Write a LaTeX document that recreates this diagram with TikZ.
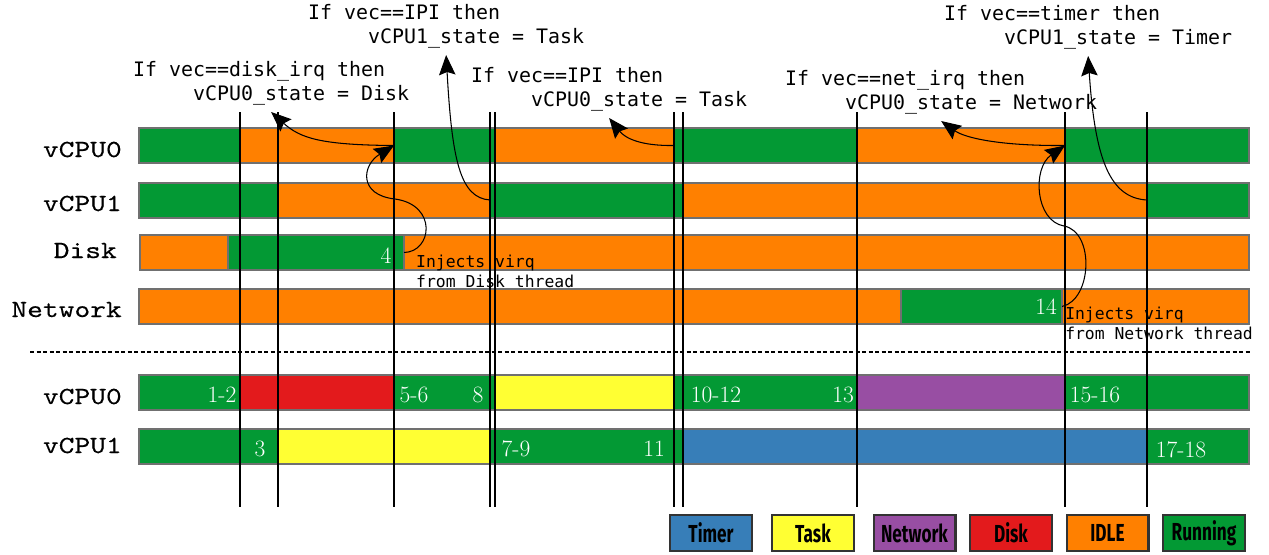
\documentclass[tikz,border=0pt]{standalone}
\usepackage{fontspec}
\usepackage{tikz}
\usetikzlibrary{positioning,arrows.meta}

\newfontfamily\lanefont{lmmono10-regular.otf}[FakeStretch=1.22,FakeBold=0.25]
\newfontfamily\codefont{DejaVu Sans Mono}
\newfontfamily\legendfont{Fira Sans}[FakeStretch=0.7]

\definecolor{run}{RGB}{3,153,52}
\definecolor{idle}{RGB}{255,128,0}
\definecolor{diskc}{RGB}{227,26,28}
\definecolor{task}{RGB}{255,255,51}
\definecolor{netc}{RGB}{152,78,163}
\definecolor{timerc}{RGB}{55,126,184}
\definecolor{bargray}{RGB}{112,112,112}

\begin{document}
\begin{tikzpicture}[x=0.03cm,y=-0.03cm,>={Stealth[length=17pt,width=14pt,inset=2.5pt]},
  seg/.style={draw=bargray,line width=1.7pt,minimum height=1.05cm,inner sep=0pt,outer sep=0pt},
  segw/.style={minimum width=#1*0.03cm},
  lane/.style={font=\lanefont\fontsize{21}{24}\selectfont,anchor=base east,inner sep=0pt},
  code/.style={font=\codefont\fontsize{17}{20.5}\selectfont,align=left,anchor=south west,inner xsep=0pt,inner ysep=6pt},
  note/.style={font=\codefont\fontsize{14}{17}\selectfont,align=left,anchor=north west,inner sep=0pt},
  num/.style={text=white,font=\fontsize{20}{24}\selectfont,inner sep=0pt},
  key/.style={draw=black!80,line width=2pt,minimum width=2.45cm,minimum height=1.07cm,inner sep=0pt,
    font=\legendfont\bfseries\fontsize{21}{24}\selectfont},
  timeline/.style={line width=1pt},
  conn/.style={->,line width=0.9pt}]

\useasboundingbox (0,0) rectangle (1269,554);

% lane names
\node[lane] (l0) at (122,157) {vCPU0};
\node[lane] (l1) at (122,211) {vCPU1};
\node[lane] (ldisk) at (117,258) {Disk};
\node[lane] (lnet) at (122,317) {Network};
\node[lane] (lb0) at (122,404) {vCPU0};
\node[lane] (lb1) at (122,453) {vCPU1};

% vCPU0
\node[seg,segw=101,fill=run,anchor=west] (t0a) at (139,145.5) {};
\node[seg,segw=154,fill=idle,right=0pt of t0a] (t0b) {};
\node[seg,segw=101,fill=run,right=0pt of t0b] (t0c) {};
\node[seg,segw=179,fill=idle,right=0pt of t0c] (t0d) {};
\node[seg,segw=183,fill=run,right=0pt of t0d] (t0e) {};
\node[seg,segw=208,fill=idle,right=0pt of t0e] (t0f) {};
\node[seg,segw=184,fill=run,right=0pt of t0f] (t0g) {};

% vCPU1
\node[seg,segw=139,fill=run,anchor=west] (t1a) at (139,200) {};
\node[seg,segw=212,fill=idle,right=0pt of t1a] (t1b) {};
\node[seg,segw=193,fill=run,right=0pt of t1b] (t1c) {};
\node[seg,segw=464,fill=idle,right=0pt of t1c] (t1d) {};
\node[seg,segw=102,fill=run,right=0pt of t1d] (t1e) {};

% Disk thread
\node[seg,segw=88,fill=idle,anchor=west] (dka) at (140,252.5) {};
\node[seg,segw=176,fill=run,right=0pt of dka] (dkb) {};
\node[seg,segw=845,fill=idle,right=0pt of dkb] (dkc) {};

% Network thread
\node[seg,segw=762,fill=idle,anchor=west] (nwa) at (139,306.5) {};
\node[seg,segw=161,fill=run,right=0pt of nwa] (nwb) {};
\node[seg,segw=187,fill=idle,right=0pt of nwb] (nwc) {};

% vCPU0 state
\node[seg,segw=101,fill=run,anchor=west] (b0a) at (139,392.5) {};
\node[seg,segw=154,fill=diskc,right=0pt of b0a] (b0b) {};
\node[seg,segw=101,fill=run,right=0pt of b0b] (b0c) {};
\node[seg,segw=179,fill=task,right=0pt of b0c] (b0d) {};
\node[seg,segw=183,fill=run,right=0pt of b0d] (b0e) {};
\node[seg,segw=208,fill=netc,right=0pt of b0e] (b0f) {};
\node[seg,segw=184,fill=run,right=0pt of b0f] (b0g) {};

% vCPU1 state
\node[seg,segw=139,fill=run,anchor=west] (b1a) at (139,446.5) {};
\node[seg,segw=212,fill=task,right=0pt of b1a] (b1b) {};
\node[seg,segw=193,fill=run,right=0pt of b1b] (b1c) {};
\node[seg,segw=464,fill=timerc,right=0pt of b1c] (b1d) {};
\node[seg,segw=102,fill=run,right=0pt of b1d] (b1e) {};

% step numbers
\node[num] (n4) at (386,256) {4};
\node[num] (n14) at (1046,307) {14};
\node[num] (n12) at (222,395) {1-2};
\node[num] (n56) at (414,395) {5-6};
\node[num] (n8) at (478,395) {8};
\node[num] (n1012) at (716,395) {10-12};
\node[num] (n13) at (843,395) {13};
\node[num] (n1516) at (1095,395) {15-16};
\node[num] (n3) at (260,449) {3};
\node[num] (n79) at (516,449) {7-9};
\node[num] (n11) at (654,449) {11};
\node[num] (n1718) at (1181,450) {17-18};

% separator
\coordinate (sepl) at (30,352);
\coordinate (sepr) at (1250,352);
\draw[line width=1.7pt,dash pattern=on 0.12cm off 0.075cm] (sepl) -- (sepr);

% time instants
\foreach \t in {240,278,394,490,495,674,683,857,1065,1147}
  \draw[timeline] (\t,112) -- (\t,507);

% handler code
\node[code] (diskirq) at (133,112) {If vec==disk\_irq then\\\hphantom{vCPU0}vCPU0\_state = Disk};
\node[code] (ipi1) at (308,55) {If vec==IPI then\\\hphantom{vCPU0}vCPU1\_state = Task};
\node[code] (ipi0) at (471,118) {If vec==IPI then\\\hphantom{vCPU0}vCPU0\_state = Task};
\node[code] (netirq) at (785,121) {If vec==net\_irq then\\\hphantom{vCPU0}vCPU0\_state = Network};
\node[code] (timer) at (944,56) {If vec==timer then\\\hphantom{vCPU0}vCPU1\_state = Timer};

\node[note] (dnote) at (416,255) {Injects virq\\from Disk thread};
\node[note] (nnote) at (1065,307) {Injects virq\\from Network thread};

% interrupts
\draw[conn] (t0b.east) .. controls (320,145) and (300,138) .. (diskirq.south);
\draw[conn] (dkb.east) .. controls (432,252) and (438,205) .. (395,199) .. controls (358,195) and (362,165) .. (t0b.east);
\draw[conn] (t1b.east) .. controls (460,198) and (452,160) .. (ipi1.south);
\draw[conn] (t0d.east) .. controls (640,146) and (625,138) .. (ipi0.south);
\draw[conn] (t0f.east) .. controls (1000,146) and (965,138) .. (netirq.south);
\draw[conn] (nwb.east) .. controls (1092,300) and (1095,232) .. (1064,226) .. controls (1035,221) and (1032,168) .. (t0f.east);
\draw[conn] (t1d.east) .. controls (1110,198) and (1095,160) .. (timer.south);

% legend
\node[key,fill=timerc] (ktimer) at (711,533) {Timer};
\node[key,fill=task] (ktask) at (813,533) {Task};
\node[key,fill=netc] (knet) at (914.5,533) {Network};
\node[key,fill=diskc] (kdisk) at (1011,533) {Disk};
\node[key,fill=idle] (kidle) at (1107.5,533) {IDLE};
\node[key,fill=run] (krun) at (1204,533) {Running};

\end{tikzpicture}
\end{document}
